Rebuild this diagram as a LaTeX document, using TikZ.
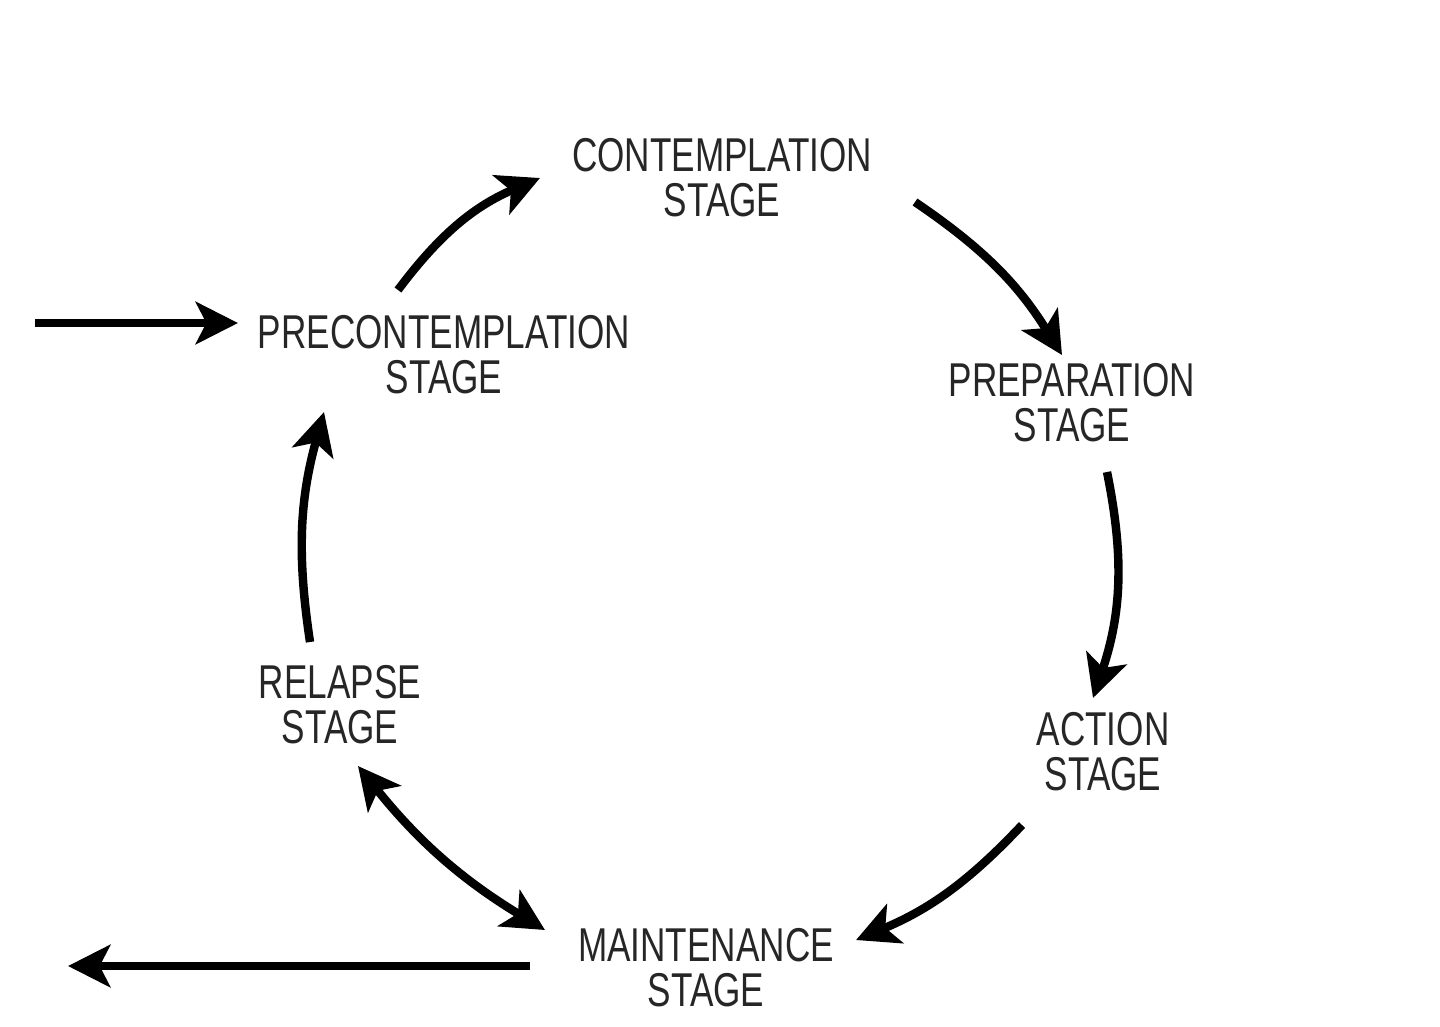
\documentclass[tikz,border=0pt]{standalone}
\usepackage{fontspec}
\setmainfont{Liberation Sans}[FakeStretch=0.74]
\usetikzlibrary{arrows.meta}
\begin{document}
\begin{tikzpicture}[x=0.01cm,y=-0.01cm,
  stage/.style={align=center,font=\fontsize{13.5}{12.8}\selectfont,text=black!85,inner sep=0pt},
  arr/.style={line width=2.4pt,-{Stealth[length=12pt,width=12pt,inset=3pt]}},
  darr/.style={line width=2.4pt,{Stealth[length=12pt,width=12pt,inset=3pt]}-{Stealth[length=12pt,width=12pt,inset=3pt]}}]
\useasboundingbox (0,0) rectangle (1440,1026);
\node[stage] (cont) at (722,178) {CONTEMPLATION\\STAGE};
\node[stage] (pre) at (444,355) {PRECONTEMPLATION\\STAGE};
\node[stage] (prep) at (1072,403) {PREPARATION\\STAGE};
\node[stage] (act) at (1103,752) {ACTION\\STAGE};
\node[stage] (rel) at (340,705) {RELAPSE\\STAGE};
\node[stage] (mai) at (706,968) {MAINTENANCE\\STAGE};
\coordinate (in) at (35,323);
\coordinate (ine) at (238,323);
\coordinate (out) at (68,966);
\coordinate (outs) at (530,966);
\coordinate (a1) at (398,290); \coordinate (b1) at (540,178);
\coordinate (a2) at (915,202); \coordinate (b2) at (1062,355);
\coordinate (a3) at (1107,472); \coordinate (b3) at (1093,698);
\coordinate (a4) at (1022,825); \coordinate (b4) at (856,940);
\coordinate (a5) at (545,930); \coordinate (b5) at (358,766);
\coordinate (a6) at (310,642); \coordinate (b6) at (324,412);
\draw[arr] (in) -- (ine);
\draw[arr] (outs) -- (out);
\draw[arr] (a1) to[bend left=15] (b1);
\draw[arr] (a2) to[bend left=12] (b2);
\draw[arr] (a3) to[bend left=15] (b3);
\draw[arr] (a4) to[bend left=12] (b4);
\draw[darr] (a5) to[bend left=10] (b5);
\draw[arr] (a6) to[bend left=12] (b6);
\end{tikzpicture}
\end{document}
